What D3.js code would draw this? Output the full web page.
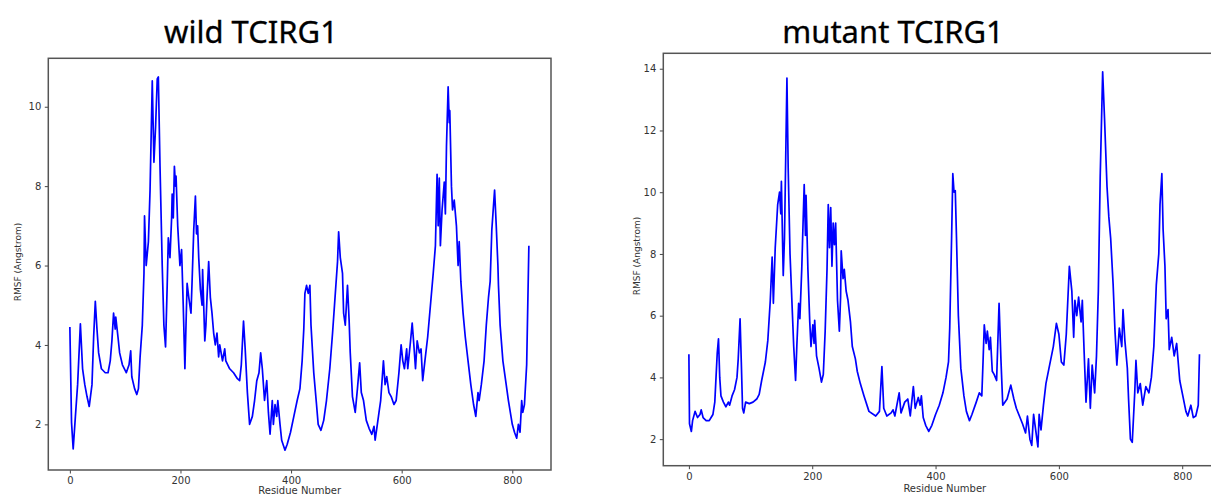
<!DOCTYPE html>
<html><head><meta charset="utf-8">
<script src="https://cdn.jsdelivr.net/npm/d3@7"></script>
<style>body{margin:0;background:#fff} svg{display:block}</style>
</head><body>
<svg id="c" width="1211" height="495"></svg>
<script>
const titles = ["wild TCIRG1", "mutant TCIRG1"];
const xLabel = "Residue Number";
const yLabel = "RMSF (Angstrom)";
const xTicks = [0, 200, 400, 600, 800];
const wildYTicks = [2, 4, 6, 8, 10];
const mutantYTicks = [2, 4, 6, 8, 10, 12, 14];

const wildResidue = [0,3,6,10,14,19,23,27,31,35,40,43,46,49,52,57,64,69,73,76,79,82,83,87,90,95,102,107,110,112,117,121,124,127,131,134,135,138,142,145,149,152,155,158,160,163,167,170,173,176,178,181,184,185,187,189,191,192,195,199,202,205,208,210,212,215,219,221,224,227,229,231,233,236,239,240,244,246,248,251,254,257,260,263,266,269,271,276,280,282,289,296,303,307,310,314,317,321,325,330,334,338,342,345,348,352,356,359,362,366,368,371,374,376,380,383,389,393,399,405,411,416,420,423,425,428,431,434,436,441,446,449,454,459,464,470,475,480,484,486,489,493,495,498,502,505,507,511,516,520,524,527,531,536,541,546,550,552,555,559,562,567,570,573,577,581,586,590,595,599,602,605,609,611,616,619,622,625,628,632,635,638,642,647,652,657,661,664,666,668,670,673,677,679,681,684,686,687,690,692,695,699,702,704,707,711,715,720,725,730,734,738,740,744,749,753,757,760,763,765,768,771,774,775,778,783,789,793,800,804,808,811,814,817,819,822,826,830];
const wildRmsf = [4.45,2.05,1.38,2.2,3.0,4.53,3.4,3.0,2.7,2.45,3.0,4.2,5.1,4.4,3.8,3.4,3.3,3.3,3.6,4.1,4.8,4.4,4.7,4.2,3.8,3.5,3.3,3.5,3.85,3.2,2.9,2.75,2.9,3.7,4.5,5.8,7.25,6.0,6.6,7.9,10.65,8.6,9.5,10.7,10.75,8.5,6.0,4.5,3.95,5.5,6.7,6.2,7.2,7.8,7.2,8.5,8.0,8.25,7.0,6.0,6.4,5.0,3.4,4.5,5.55,5.2,4.8,5.6,6.9,7.75,6.8,7.0,6.2,5.4,5.0,5.9,4.1,4.5,5.2,6.1,5.2,4.8,4.3,4.0,4.3,3.7,4.0,3.6,3.9,3.6,3.4,3.3,3.15,3.1,3.5,4.6,3.9,2.8,2.0,2.2,2.6,3.1,3.3,3.8,3.4,2.6,3.1,2.3,1.75,2.6,2.0,2.5,2.2,2.6,2.0,1.6,1.35,1.5,1.8,2.2,2.6,2.9,3.6,4.4,5.3,5.5,5.3,5.5,4.5,3.3,2.5,2.0,1.85,2.1,2.6,3.4,4.3,5.3,6.1,6.85,6.2,5.8,4.8,4.5,5.5,4.6,3.8,2.7,2.3,2.9,3.55,2.8,2.6,2.1,1.9,1.75,1.95,1.6,1.9,2.3,2.6,3.6,3.0,3.2,2.8,2.7,2.5,2.6,3.3,4.0,3.6,3.4,3.9,3.4,4.1,4.55,4.0,3.4,4.1,3.8,3.9,3.1,3.6,4.2,5.0,5.8,6.5,8.3,7.0,8.2,6.5,7.4,8.1,7.3,9.0,10.5,9.6,9.9,8.0,7.4,7.65,7.0,6.0,6.6,5.6,4.8,4.2,3.6,3.0,2.5,2.2,2.8,2.6,3.0,3.6,4.5,5.2,5.6,6.9,7.3,7.9,7.0,6.0,5.5,4.5,3.6,3.0,2.6,2.0,1.8,1.65,2.0,1.8,2.6,2.3,2.5,3.5,6.5];

const mutantResidue = [0,1,4,6,10,14,18,20,23,28,33,36,39,42,44,46,48,50,52,56,60,64,66,70,74,78,80,83,85,87,89,92,98,104,110,114,118,124,128,132,135,137,140,144,147,149,150,153,155,159,161,164,167,170,173,175,178,180,183,185,187,189,190,193,196,198,201,203,204,207,211,215,218,221,224,226,228,230,232,234,236,238,241,244,246,247,250,252,255,258,262,265,270,273,278,284,292,303,309,313,316,321,328,331,334,341,344,350,355,359,364,367,372,375,377,380,384,389,394,400,406,412,417,421,423,426,428,430,432,434,437,441,446,450,455,459,466,471,475,477,479,482,484,487,489,492,495,499,503,506,509,516,522,527,531,536,541,546,549,553,556,559,563,566,568,571,575,579,584,591,596,600,604,608,612,617,621,624,626,629,632,636,638,641,644,648,651,654,658,661,664,667,671,674,678,681,684,688,691,694,698,702,704,707,711,713,716,719,723,725,728,732,736,741,746,750,754,758,762,764,767,769,772,774,777,779,783,787,791,796,801,806,809,814,818,822,826,828];
const mutantRmsf = [4.75,2.5,2.25,2.6,2.9,2.7,2.8,2.95,2.7,2.6,2.6,2.7,2.8,3.2,4.0,4.8,5.25,4.0,3.4,3.2,3.05,3.2,3.1,3.4,3.6,4.0,4.6,5.9,4.5,3.0,2.85,3.2,3.15,3.2,3.3,3.45,3.9,4.5,5.2,6.5,7.9,6.4,8.2,9.6,10.0,9.3,10.35,7.3,8.5,13.7,10.8,8.0,6.5,5.0,3.9,5.0,6.4,5.9,7.5,8.9,10.25,8.6,9.9,7.5,5.8,5.0,5.7,5.1,5.85,4.7,4.3,3.85,4.1,5.5,7.5,9.6,8.2,9.5,7.6,9.0,8.3,9.0,6.5,5.5,6.6,8.1,7.2,7.5,6.8,6.5,5.8,5.0,4.6,4.2,3.8,3.4,2.9,2.75,2.9,4.35,3.0,2.75,2.85,2.95,2.75,3.5,2.85,3.2,3.3,2.75,3.7,3.0,3.35,3.1,3.4,2.7,2.45,2.25,2.45,2.8,3.1,3.5,4.0,4.5,5.6,8.5,10.6,10.0,10.05,8.5,6.0,4.3,3.4,2.9,2.6,2.8,3.2,3.5,3.4,4.5,5.7,5.1,5.5,4.9,5.3,4.2,4.1,3.9,6.4,4.6,3.1,3.3,3.75,3.3,3.0,2.75,2.5,2.2,2.75,2.0,1.8,2.8,2.2,1.75,2.8,2.3,3.1,3.8,4.3,5.0,5.75,5.4,4.5,4.4,5.4,7.6,6.8,5.3,6.5,6.0,6.6,5.8,6.5,4.8,3.2,4.6,3.0,4.4,3.5,4.7,6.8,10.5,13.9,12.4,10.2,9.2,8.5,7.0,5.5,4.4,5.6,5.0,6.2,5.2,4.3,3.3,2.0,1.9,3.5,4.55,3.5,3.8,3.1,3.7,3.5,4.0,5.0,7.0,8.0,9.6,10.6,8.8,7.6,5.9,6.2,4.9,5.3,4.7,5.1,3.9,3.4,2.9,2.75,3.1,2.7,2.75,3.1,4.75];

const panels = [
  {title: titles[0], res: wildResidue, val: wildRmsf, yTicks: wildYTicks,
   left: 48.3, right: 551, top: 58.3, bottom: 470, xDom: [-39, 870], yDom: [0.85, 11.22],
   titleX: 251, ylabX: 18, ylabY: 262, xlabY: 494},
  {title: titles[1], res: mutantResidue, val: mutantRmsf, yTicks: mutantYTicks,
   left: 663.3, right: 1226.3, top: 53.3, bottom: 465.7, xDom: [-41.5, 871.5], yDom: [1.14, 14.5],
   titleX: 893, ylabX: 637, ylabY: 256, xlabY: 492}
];

const svg = d3.select("#c");
panels.forEach(p => {
  const x = d3.scaleLinear().domain(p.xDom).range([p.left, p.right]);
  const y = d3.scaleLinear().domain(p.yDom).range([p.bottom, p.top]);
  const g = svg.append("g");

  g.append("text").attr("x", p.titleX).attr("y", 43).attr("text-anchor", "middle")
    .style("font-family", "'Noto Sans', 'Open Sans', sans-serif").style("font-size", "31px")
    .attr("fill", "#000").attr("stroke", "#000").attr("stroke-width", 0.3).text(p.title);

  const xa = g.append("g").attr("transform", `translate(0,${p.bottom})`)
    .call(d3.axisBottom(x).tickValues(xTicks).tickSize(3.5).tickPadding(3.5));
  const ya = g.append("g").attr("transform", `translate(${p.left},0)`)
    .call(d3.axisLeft(y).tickValues(p.yTicks).tickSize(3.5).tickPadding(3.5));
  [xa, ya].forEach(a => {
    a.select(".domain").remove();
    a.selectAll("line").attr("stroke", "#444");
    a.selectAll("text").style("font-family", "'DejaVu Sans', sans-serif").style("font-size", "10px").attr("fill", "#333");
  });

  const data = p.res.map((r, i) => [r, p.val[i]]);
  g.append("path").datum(data)
    .attr("d", d3.line().x(d => x(d[0])).y(d => y(d[1])))
    .attr("fill", "none").attr("stroke", "#0000ff").attr("stroke-width", 1.7)
    .attr("stroke-linejoin", "round");

  g.append("rect").attr("x", p.left).attr("y", p.top)
    .attr("width", p.right - p.left).attr("height", p.bottom - p.top)
    .attr("fill", "none").attr("stroke", "#555").attr("stroke-width", 1.5);

  g.append("text").attr("x", (p.left + p.right) / 2).attr("y", p.xlabY)
    .attr("text-anchor", "middle").style("font-family", "'DejaVu Sans', sans-serif")
    .style("font-size", "10px").attr("fill", "#333").text(xLabel);

  g.append("text").attr("transform", `translate(${p.ylabX},${p.ylabY}) rotate(-90)`)
    .attr("text-anchor", "middle").attr("dy", "0.35em").style("font-family", "'DejaVu Sans', sans-serif")
    .style("font-size", "9px").attr("fill", "#333").text(yLabel);
});
</script>
</body></html>
